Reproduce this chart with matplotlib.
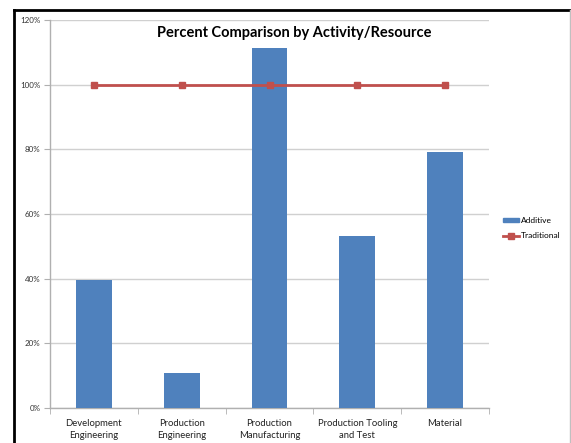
import matplotlib
matplotlib.use("Agg")
import matplotlib.pyplot as plt
from matplotlib.lines import Line2D
from matplotlib.patches import Rectangle
from matplotlib.ticker import FuncFormatter, FixedLocator

categories = ["Development\nEngineering", "Production\nEngineering", "Production\nManufacturing",
              "Production Tooling\nand Test", "Material"]
additive = [39.6, 10.8, 111.3, 53.2, 79.2]
traditional = [100, 100, 100, 100, 100]
yticks = [0, 20, 40, 60, 80, 100, 120]

plt.rcParams['font.family'] = ['Lato', 'DejaVu Sans']

W, H = 571, 443
fig = plt.figure(figsize=(W/100, H/100), dpi=100)
ax = fig.add_axes([50/W, 1-408/H, (489-50)/W, (408-20)/H])

x = list(range(len(categories)))
bars = ax.bar(x, additive, width=0.41, color='#4F81BD', label='Additive', zorder=3)
line, = ax.plot(x, traditional, color='#C0504D', lw=2, marker='s', markersize=5,
                label='Traditional', zorder=4)

ax.set_xlim(-0.5, len(categories)-0.5)
ax.set_ylim(0, 120)
ax.set_yticks(yticks)
ax.yaxis.set_major_formatter(FuncFormatter(lambda v, p: f"{int(v)}%"))
ax.grid(axis='y', color='#D0D0D0', lw=1, zorder=0)
ax.set_xticks(x)
ax.set_xticklabels(categories, fontsize=6.8, color='#222222', linespacing=1.45)
ax.xaxis.set_minor_locator(FixedLocator([i-0.5 for i in range(len(categories)+1)]))
ax.tick_params(axis='x', which='major', length=0, pad=8)
ax.tick_params(axis='x', which='minor', length=4, color='#B0B0B0')
ax.tick_params(axis='y', length=4, color='#B0B0B0', labelsize=5.8, labelcolor='#333333', pad=3)
for s in ['top', 'right']:
    ax.spines[s].set_visible(False)
for s in ['left', 'bottom']:
    ax.spines[s].set_color('#B0B0B0')
    ax.spines[s].set_linewidth(1)

fig.text(294/W, 1-33/H, "Percent Comparison by Activity/Resource", ha='center', va='center',
         fontsize=10.5, fontweight='bold', color='black')

bar_handle = Rectangle((0, 0), 1, 1, color='#4F81BD')
leg = fig.legend([bar_handle, line], ['Additive', 'Traditional'],
                 loc='center left', bbox_to_anchor=(495/W, 1-228/H), frameon=False,
                 fontsize=6, handlelength=2.0, handleheight=0.5, labelspacing=1.0,
                 handletextpad=0.2)

# chart frame
fig.add_artist(Line2D([14/W, 14/W], [0, 1-10/H], color='black', lw=2))
fig.add_artist(Line2D([14/W, 571/W], [1-10/H, 1-10/H], color='black', lw=2))
fig.add_artist(Line2D([570/W, 570/W], [0, 1-10/H], color='#C0C0C0', lw=1))

fig.savefig("out.png", dpi=100)
